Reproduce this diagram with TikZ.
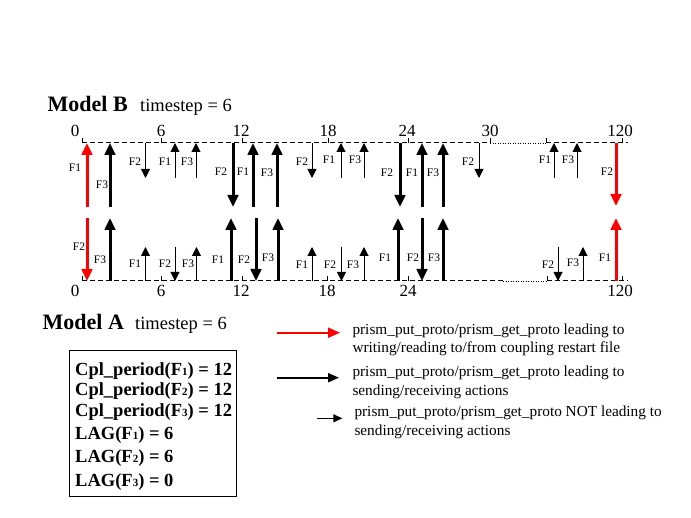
\documentclass[tikz,border=0pt]{standalone}
\usepackage{fontspec}
\setmainfont{Liberation Serif}
\usetikzlibrary{arrows.meta}
\newcommand{\fsz}[1]{\fontsize{#1}{#1}\selectfont}
\newcommand{\sbx}[1]{{\fsz{11}#1}}
\begin{document}
\begin{tikzpicture}[x=1pt,y=-1pt,
  thickarr/.style={line width=3pt,-{Triangle[length=12pt,width=10.5pt]}},
  redarr/.style={thickarr,red},
  thinarr/.style={line width=1pt,-{Triangle[length=9pt,width=9pt]}},
  dashline/.style={line width=1pt,dash pattern=on 5pt off 3pt},
  dotline/.style={line width=0.8pt,dash pattern=on 1pt off 1.5pt},
  tickline/.style={line width=1pt},
  flab/.style={inner sep=0pt,font=\fsz{11.5}},
  numlab/.style={inner sep=0pt,font=\fsz{17}},
  legtext/.style={inner sep=0pt,anchor=base west,font=\fsz{15.3}},
  boxtext/.style={inner sep=0pt,anchor=base west,font=\fsz{18.5}\bfseries},
]
\useasboundingbox (0,0) rectangle (691,518);
\fill[white] (0,0) rectangle (691,518);

% headings
\node[inner sep=0pt,anchor=base west,font=\fsz{22}\bfseries] (mb) at (47.5,111.7) {Model B};
\node[inner sep=0pt,anchor=base west,font=\fsz{18.5}] (tsb) at (140,111.7) {timestep = 6};
\node[inner sep=0pt,anchor=base west,font=\fsz{22}\bfseries] (ma) at (42.5,330) {Model A};
\node[inner sep=0pt,anchor=base west,font=\fsz{18.5}] (tsa) at (135,330) {timestep = 6};

% axes
\coordinate (tL) at (82,143);
\coordinate (tA) at (490,143);
\coordinate (tB) at (546,143);
\coordinate (tR) at (628,143);
\draw[dashline] (tL) -- (tA);
\draw[dotline] (tA) -- (tB);
\draw[dashline] (tB) -- (tR);
\coordinate (bL) at (82,281);
\coordinate (bA) at (503,281);
\coordinate (bB) at (547,281);
\coordinate (bR) at (628,281);
\draw[dashline] (bL) -- (bA);
\draw[dotline] (bA) -- (bB);
\draw[dashline] (bB) -- (bR);
\foreach \x in {82,161,242.5,328,408,490,546,622}
  \draw[tickline] (\x,143.5) -- (\x,138);
\foreach \x in {82,161.5,242.5,327,408,547,622}
  \draw[tickline] (\x,281.5) -- (\x,276);

% axis numbers
\foreach \x/\t [count=\i] in {75/0,161/6,241/12,328/18,407/24,490/30,620/120}
  \node[numlab] (tn\i) at (\x,130.5) {\t};
\foreach \x/\t [count=\i] in {75/0,161/6,241/12,327/18,408/24,620/120}
  \node[numlab] (bn\i) at (\x,290.5) {\t};

% arrows: x / from y / to y / label / label x / label y / style
\foreach \x/\ya/\yb/\lab/\lx/\ly/\st [count=\i] in {
  87/207/143/F1/75/168/redarr,
  110/207/143/F3/102/185/thickarr,
  233/143/207/F2/221/172/thickarr,
  253/207/143/F1/243/172/thickarr,
  277/207/143/F3/267/173/thickarr,
  400/143/207/F2/387/173/thickarr,
  422/207/143/F1/412/173/thickarr,
  443/207/143/F3/433/173/thickarr,
  616/143/206/F2/607/172/redarr,
  145.5/143/178/F2/135/162/thinarr,
  175/178/143/F1/165/162/thinarr,
  196/178/143/F3/187/162/thinarr,
  312/143/178/F2/302/162/thinarr,
  341/178/143/F1/329/160/thinarr,
  364/178/143/F3/355/160/thinarr,
  479/143/178/F2/468/162/thinarr,
  554/178/143/F1/545/160/thinarr,
  577/178/143/F3/568/160/thinarr,
  87/218/281/F2/79/247/redarr,
  110/281/218/F3/100/260/thickarr,
  231/281/218/F1/218/260/thickarr,
  256/218/281/F2/244/260/thickarr,
  278/281/218/F3/268/258/thickarr,
  398/281/218/F1/385/258/thickarr,
  422/218/281/F2/413/258/thickarr,
  443/281/218/F3/434/258/thickarr,
  616/281/218/F1/605/258/redarr,
  145.5/281/247/F1/135/264/thinarr,
  175/247/281/F2/165/264/thinarr,
  196.5/281/247/F3/188/264/thinarr,
  312/281/247/F1/302/265/thinarr,
  341.5/247/281/F2/330/265/thinarr,
  364/281/247/F3/353/265/thinarr,
  558/247/281/F2/548/265/thinarr,
  583/281/247/F3/573/263/thinarr}{
  \coordinate (s\i) at (\x,\ya);
  \coordinate (e\i) at (\x,\yb);
  \draw[\st] (s\i) -- (e\i);
  \node[flab] (l\i) at (\lx,\ly) {\lab};
}

% parameter box
\draw[line width=1pt] (69.3,351) rectangle (236.7,496);
\node[boxtext] (p1) at (75,375.5) {Cpl\_period(F\sbx{1}) = 12};
\node[boxtext] (p2) at (75,396) {Cpl\_period(F\sbx{2}) = 12};
\node[boxtext] (p3) at (75,417) {Cpl\_period(F\sbx{3}) = 12};
\node[boxtext] (p4) at (75,440) {LAG(F\sbx{1}) = 6};
\node[boxtext] (p5) at (75,463) {LAG(F\sbx{2}) = 6};
\node[boxtext] (p6) at (75,486.5) {LAG(F\sbx{3}) = 0};

% legend
\coordinate (ra) at (276.7,332.7);
\coordinate (rb) at (340,332.7);
\draw[line width=2pt,red,-{Triangle[length=12pt,width=10pt]}] (ra) -- (rb);
\node[legtext] (t1) at (352.3,335) {prism\_put\_proto/prism\_get\_proto leading to};
\node[legtext] (t2) at (352.3,352.7) {writing/reading to/from coupling restart file};
\coordinate (ka) at (276.7,377.7);
\coordinate (kb) at (339,377.7);
\draw[line width=2pt,-{Triangle[length=11pt,width=9pt]}] (ka) -- (kb);
\node[legtext] (t3) at (352.3,376.7) {prism\_put\_proto/prism\_get\_proto leading to};
\node[legtext] (t4) at (352.3,396) {sending/receiving actions};
\coordinate (na) at (316.7,418.3);
\coordinate (nb) at (342.3,418.3);
\draw[line width=1pt,-{Triangle[length=9pt,width=8pt]}] (na) -- (nb);
\node[legtext] (t5) at (354.3,416.7) {prism\_put\_proto/prism\_get\_proto NOT leading to};
\node[legtext] (t6) at (354.3,436) {sending/receiving actions};
\end{tikzpicture}
\end{document}
